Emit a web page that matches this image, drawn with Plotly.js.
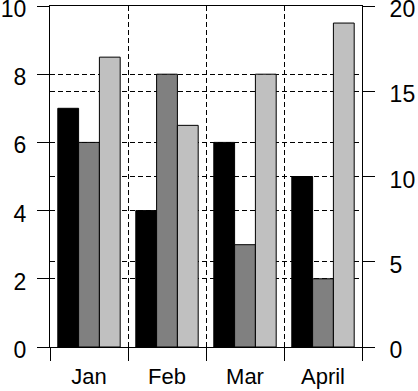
<!DOCTYPE html>
<html><head><meta charset="utf-8">
<script src="https://cdn.plot.ly/plotly-3.0.1.min.js"></script>
<style>html,body{margin:0;padding:0;background:#fff}</style>
</head><body><div id="chart" style="width:418px;height:391px"></div>
<script>
const categories = ["Jan", "Feb", "Mar", "April"];
const series1 = [7, 4, 6, 5];
const series2 = [6, 8, 3, 2];
const series3 = [8.5, 6.5, 8, 9.5];
const leftTicks = [0, 2, 4, 6, 8, 10];
const rightTicks = [0, 5, 10, 15, 20];

const fontFam = '"Liberation Sans", Arial, sans-serif';
const mk = (y, color) => ({
  type: 'bar', x: categories, y: y,
  marker: {color: color, line: {color: '#000', width: 1}},
  hoverinfo: 'skip'
});
const traces = [mk(series1, '#000000'), mk(series2, '#808080'), mk(series3, '#c0c0c0'),
  {type: 'scatter', x: categories, y: [null, null, null, null], yaxis: 'y2', showlegend: false, hoverinfo: 'skip'}];

const layout = {
  width: 418, height: 391,
  margin: {l: 50, r: 56, t: 6, b: 44},
  paper_bgcolor: '#fff', plot_bgcolor: '#fff',
  showlegend: false, barmode: 'group', bargap: 0.2, bargroupgap: 0,
  font: {family: fontFam, color: '#000'},
  xaxis: {
    type: 'category', tickson: 'boundaries', ticks: 'outside', ticklen: 13, tickcolor: '#000', tickwidth: 1,
    showline: true, linecolor: '#000', linewidth: 1, mirror: true,
    showgrid: true, gridcolor: '#000', gridwidth: 1, griddash: '5px,3px',
    ticklabelstandoff: 10, ticklabeloverflow: 'allow',
    tickfont: {size: 22, family: fontFam, color: '#000'}, fixedrange: true
  },
  yaxis: {
    range: [0, 10], tickvals: leftTicks, ticktext: leftTicks.map(String),
    ticks: 'outside', ticklen: 12, tickcolor: '#000', tickwidth: 1,
    showline: true, linecolor: '#000', linewidth: 1,
    showgrid: true, gridcolor: '#000', gridwidth: 1, griddash: '5px,3px',
    zeroline: false, ticklabeloverflow: 'allow', ticklabelstandoff: 6, ticklabelshift: 3,
    tickfont: {size: 23, family: fontFam, color: '#000'}, fixedrange: true
  },
  yaxis2: {
    overlaying: 'y', side: 'right', range: [0, 20], tickvals: rightTicks, ticktext: rightTicks.map(String),
    ticks: 'outside', ticklen: 12, tickcolor: '#000', tickwidth: 1,
    showline: true, linecolor: '#000', linewidth: 1,
    showgrid: true, gridcolor: '#000', gridwidth: 1, griddash: '5px,3px',
    zeroline: false, ticklabeloverflow: 'allow', ticklabelstandoff: 10, ticklabelshift: 3,
    tickfont: {size: 23, family: fontFam, color: '#000'}, fixedrange: true
  }
};
Plotly.newPlot('chart', traces, layout, {displayModeBar: false, staticPlot: true});
</script></body></html>
